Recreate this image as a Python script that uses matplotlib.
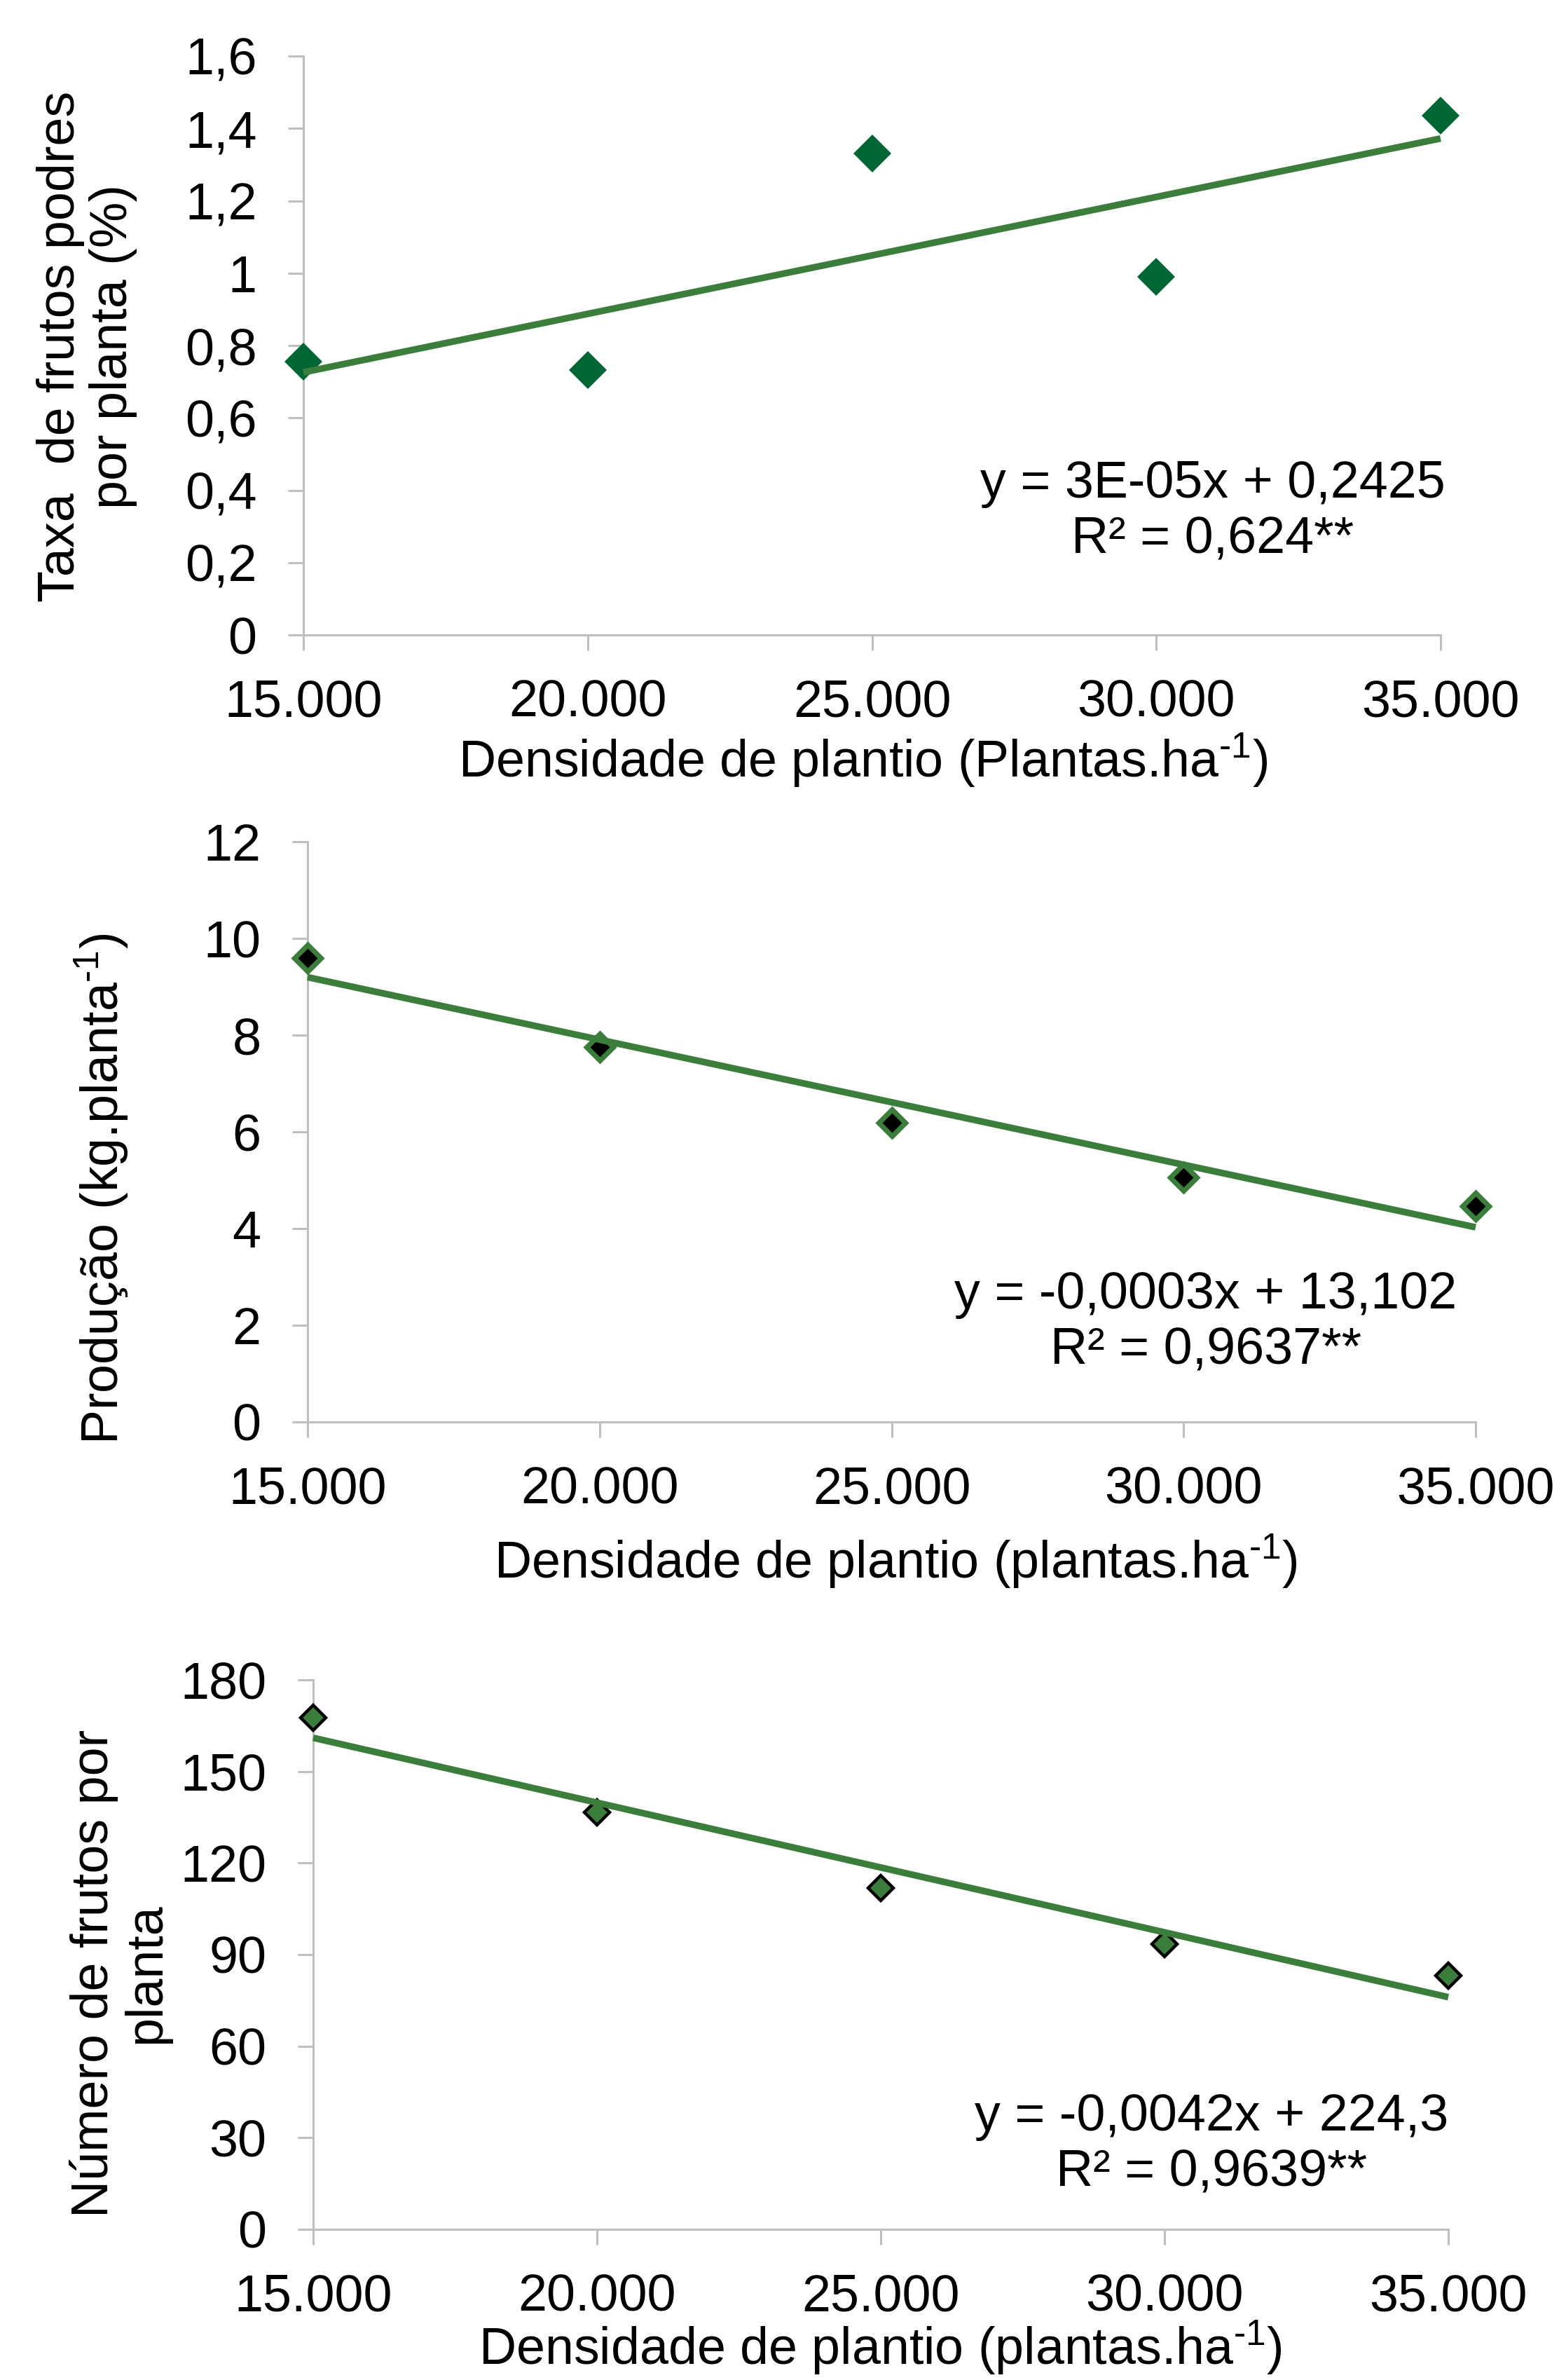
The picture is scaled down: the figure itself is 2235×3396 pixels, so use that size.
import numpy as np
import matplotlib
matplotlib.use('Agg')
import matplotlib.pyplot as plt
from matplotlib.ticker import FixedLocator, FixedFormatter

# ---------------- data ----------------
density = [15000, 20000, 25000, 30000, 35000]
x_tick_labels = ['15.000', '20.000', '25.000', '30.000', '35.000']

rot_rate = [0.756, 0.733, 1.331, 0.989, 1.436]
rot_ticks = [0, 0.2, 0.4, 0.6, 0.8, 1.0, 1.2, 1.4, 1.6]
rot_tick_labels = ['0', '0,2', '0,4', '0,6', '0,8', '1', '1,2', '1,4', '1,6']
rot_eq = 'y = 3E-05x + 0,2425\nR² = 0,624**'

yield_kg = [9.59, 7.75, 6.19, 5.06, 4.47]
yield_ticks = [0, 2, 4, 6, 8, 10, 12]
yield_tick_labels = ['0', '2', '4', '6', '8', '10', '12']
yield_eq = 'y = -0,0003x + 13,102\nR² = 0,9637**'

fruit_count = [167.6, 136.7, 111.9, 93.5, 83.0]
count_ticks = [0, 30, 60, 90, 120, 150, 180]
count_tick_labels = ['0', '30', '60', '90', '120', '150', '180']
count_eq = 'y = -0,0042x + 224,3\nR² = 0,9639**'

# ---------------- style ----------------
plt.rcParams['font.family'] = ['Liberation Sans', 'DejaVu Sans']
plt.rcParams['mathtext.fontset'] = 'custom'
plt.rcParams['mathtext.rm'] = 'Liberation Sans'
plt.rcParams['mathtext.it'] = 'Liberation Sans:italic'
plt.rcParams['mathtext.bf'] = 'Liberation Sans:bold'

W, H = 2235, 3396
DPI = 200
FS = 26.5
LINE_GREEN = '#3B7D3B'
DARK_GREEN = '#006633'
AXIS_GRAY = '#BFBFBF'
SUP = r'$^{\text{-1}}$'

fig = plt.figure(figsize=(W / DPI, H / DPI), dpi=DPI)


def fx(px):
    return px / W


def fy(py):
    return 1 - py / H


def make_axes(left, right, top, bottom):
    return fig.add_axes([fx(left), fy(bottom), fx(right) - fx(left), fy(top) - fy(bottom)])


def style(ax, ylim, yticks, ylabels):
    ax.set_xlim(15000, 35000)
    ax.set_ylim(*ylim)
    ax.xaxis.set_major_locator(FixedLocator(density))
    ax.xaxis.set_major_formatter(FixedFormatter(x_tick_labels))
    ax.yaxis.set_major_locator(FixedLocator(yticks))
    ax.yaxis.set_major_formatter(FixedFormatter(ylabels))
    for s in ['top', 'right']:
        ax.spines[s].set_visible(False)
    for s in ['left', 'bottom']:
        ax.spines[s].set_color(AXIS_GRAY)
        ax.spines[s].set_linewidth(1.1)
    ax.tick_params(axis='both', direction='out', length=7.9, width=1.1,
                   color=AXIS_GRAY, labelsize=FS, labelcolor='black')
    ax.tick_params(axis='x', pad=14.5)
    ax.tick_params(axis='y', pad=16)
    ax.set_facecolor('none')


def trend(ax, yvals):
    coef = np.polyfit(density, yvals, 1)
    xs = np.array([density[0], density[-1]])
    ax.plot(xs, np.polyval(coef, xs), color=LINE_GREEN, lw=3.4,
            solid_capstyle='butt', zorder=4, clip_on=False)


# ---------------- panel 1 ----------------
ax1 = make_axes(433, 2056, 80, 906)
style(ax1, (0, 1.6), rot_ticks, rot_tick_labels)
ax1.plot(density, rot_rate, linestyle='none', marker='D', ms=13.5,
         mfc=DARK_GREEN, mec=DARK_GREEN, mew=0, zorder=3, clip_on=False)
trend(ax1, rot_rate)
ax1.set_xlabel('Densidade de plantio (Plantas.ha' + SUP + ')', fontsize=FS, va='center')
ax1.xaxis.set_label_coords(fx(1232), fy(1085), transform=fig.transFigure)
ax1.set_ylabel('Taxa  de frutos podres\npor planta (%)', fontsize=FS,
               va='center', ha='center', linespacing=1.1)
ax1.yaxis.set_label_coords(fx(124), fy(494), transform=fig.transFigure)
fig.text(fx(1731), fy(730), rot_eq, fontsize=FS, ha='center', va='center',
         multialignment='center', linespacing=1.2)

# ---------------- panel 2 ----------------
ax2 = make_axes(439, 2106, 1201, 2029)
style(ax2, (0, 12), yield_ticks, yield_tick_labels)
ax2.plot(density, yield_kg, linestyle='none', marker='D', ms=9.5,
         mfc='black', mec=LINE_GREEN, mew=2.6, zorder=3, clip_on=False)
trend(ax2, yield_kg)
ax2.set_xlabel('Densidade de plantio (plantas.ha' + SUP + ')', fontsize=FS, va='center')
ax2.xaxis.set_label_coords(fx(1278), fy(2228), transform=fig.transFigure)
ax2.set_ylabel('Produção (kg.planta' + SUP + ')', fontsize=FS, va='center', ha='center')
ax2.yaxis.set_label_coords(fx(145), fy(1696), transform=fig.transFigure)
fig.text(fx(1721), fy(1887), yield_eq, fontsize=FS, ha='center', va='center',
         multialignment='center', linespacing=1.2)

# ---------------- panel 3 ----------------
ax3 = make_axes(447, 2067, 2397, 3181)
style(ax3, (0, 180), count_ticks, count_tick_labels)
ax3.plot(density, fruit_count, linestyle='none', marker='D', ms=9.2,
         mfc=LINE_GREEN, mec='black', mew=1.6, zorder=3, clip_on=False)
trend(ax3, fruit_count)
ax3.set_xlabel('Densidade de plantio (plantas.ha' + SUP + ')', fontsize=FS, va='center')
ax3.xaxis.set_label_coords(fx(1256), fy(3350), transform=fig.transFigure)
ax3.set_ylabel('Número de frutos por\nplanta', fontsize=FS, va='center',
               ha='center', linespacing=1.1)
ax3.yaxis.set_label_coords(fx(171), fy(2816), transform=fig.transFigure)
fig.text(fx(1729), fy(3060), count_eq, fontsize=FS, ha='center', va='center',
         multialignment='center', linespacing=1.2)

fig.savefig('out.png', dpi=DPI, facecolor='white')
